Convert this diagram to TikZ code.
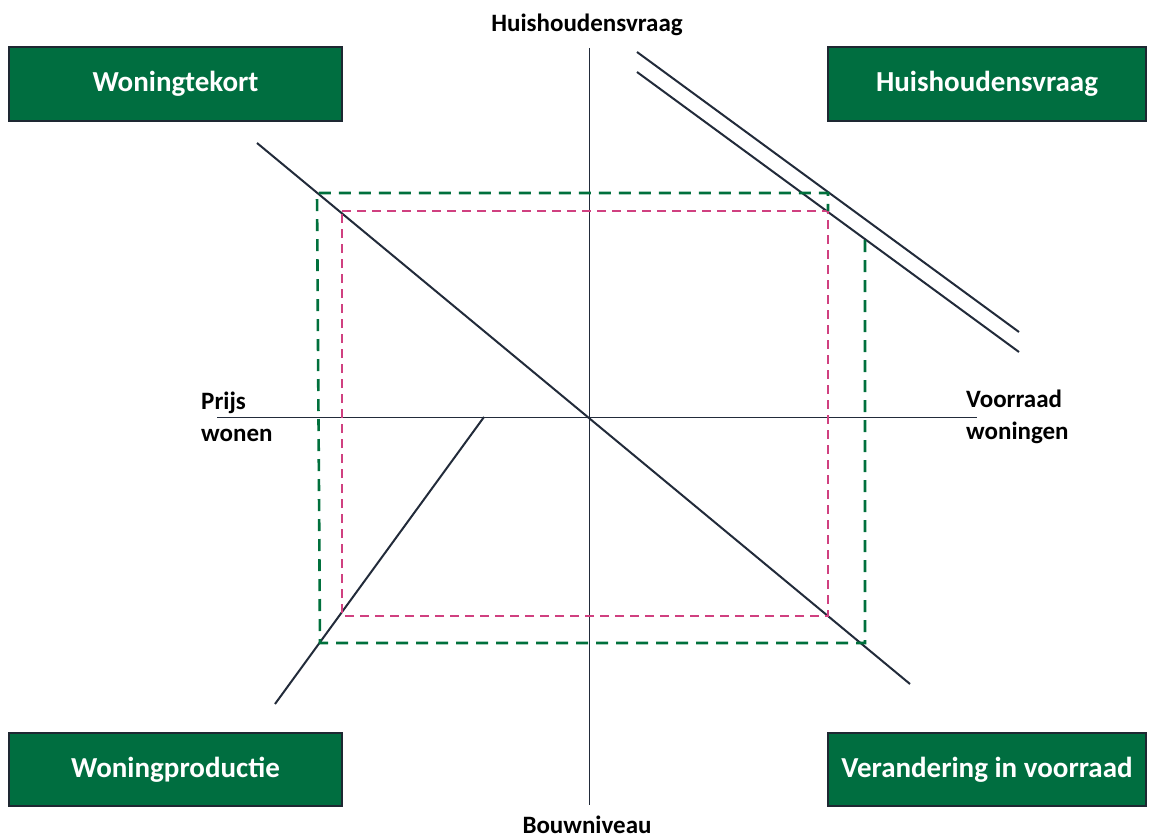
\documentclass[tikz,border=0pt]{standalone}
\usepackage{fontspec}
\setmainfont{Carlito}
\definecolor{boxgreen}{RGB}{0,110,64}
\definecolor{boxborder}{RGB}{30,40,50}
\definecolor{linecol}{RGB}{34,43,58}
\definecolor{dashgreen}{RGB}{0,112,60}
\definecolor{dashpink}{RGB}{208,64,128}
\begin{document}
\begin{tikzpicture}[x=1pt,y=-1pt,
  qbox/.style={draw=boxborder, fill=boxgreen, line width=1.3pt, minimum height=74pt,
    text=white, inner sep=0pt, font=\fontsize{29}{34}\selectfont\bfseries},
  axlabel/.style={inner sep=0pt, font=\fontsize{25}{32}\selectfont\bfseries, text=black},
  axisline/.style={draw=linecol, line width=0.9pt},
  curve/.style={draw=linecol, line width=2pt},
  greendash/.style={draw=dashgreen, line width=2.6pt, dash pattern=on 12pt off 8pt},
  pinkdash/.style={draw=dashpink, line width=1.9pt, dash pattern=on 9pt off 6pt}
]
\useasboundingbox (0,0) rectangle (1152,840);

% boxes
\node[qbox, minimum width=333pt] (btl) at (175.5,84) {Woningtekort};
\node[qbox, minimum width=318pt] (btr) at (987,84) {Huishoudensvraag};
\node[qbox, minimum width=333pt, minimum height=73pt] (bbl) at (175.5,769.5) {Woningproductie};
\node[qbox, minimum width=318pt, minimum height=73pt] (bbr) at (987,769.5) {Verandering in voorraad};

% axis labels
\node[axlabel] (ltop) at (587,25) {Huishoudensvraag};
\node[axlabel] (lbot) at (587,825) {Bouwniveau};
\node[axlabel, anchor=west, align=left] (lleft) at (201,417) {Prijs\\wonen};
\node[axlabel, anchor=west, align=left] (lright) at (966,417) {Voorraad\\woningen};

% axes
\coordinate (vtop) at (589,48);
\coordinate (vbot) at (589,805);
\coordinate (hl) at (217,417);
\coordinate (hr) at (977,417);
\draw[axisline] (vtop) -- (vbot);
\draw[axisline] (hl) -- (hr);

% curves
\coordinate (d1) at (257,143);
\coordinate (d2) at (910,684);
\draw[curve] (d1) -- (d2);
\coordinate (u1) at (637,52);
\coordinate (u2) at (1019,332);
\draw[curve] (u1) -- (u2);
\coordinate (w1) at (637,72);
\coordinate (w2) at (1019,352);
\draw[curve] (w1) -- (w2);
\coordinate (p1) at (484,417);
\coordinate (p2) at (275,704);
\draw[curve] (p1) -- (p2);

% pink dashed rectangle
\coordinate (pa) at (342,211);
\coordinate (pb) at (828,211);
\coordinate (pc) at (828,616);
\coordinate (pd) at (342,616);
\draw[pinkdash] (pa) -- (pb) -- (pc) -- (pd) -- cycle;

% green dashed path
\coordinate (ga) at (865,240);
\coordinate (gb) at (865,643);
\coordinate (gc) at (320,643);
\coordinate (gd) at (317,193);
\coordinate (ge) at (828,193);
\coordinate (gf) at (828,211);
\draw[greendash] (ga) -- (gb) -- (gc) -- (gd) -- (ge) -- (gf);
\end{tikzpicture}
\end{document}
